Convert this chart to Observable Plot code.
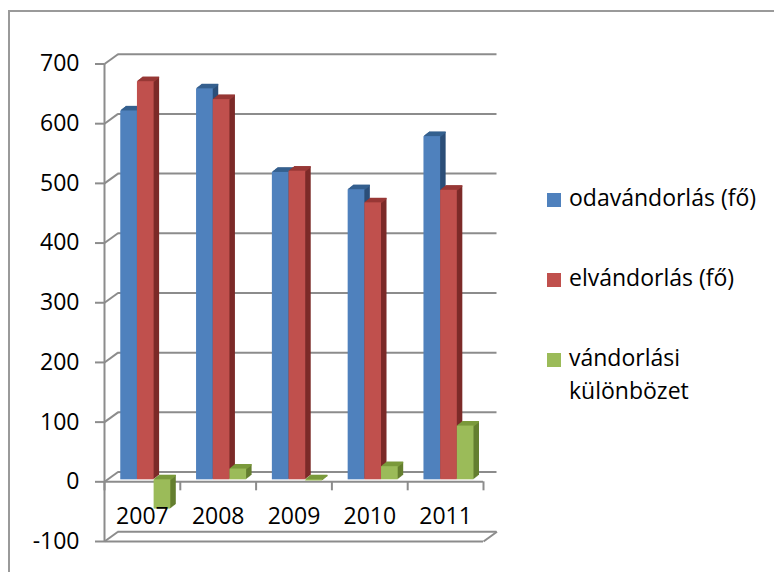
<!DOCTYPE html>
<html>
<head>
<meta charset="utf-8">
<script src="https://cdn.jsdelivr.net/npm/d3@7"></script>
<script src="https://cdn.jsdelivr.net/npm/@observablehq/plot@0.6"></script>
<style>
  body { margin: 0; background: #fff; }
  #wrap { position: relative; width: 774px; height: 572px; overflow: hidden; font-family: "Open Sans", sans-serif; }
  #border { position: absolute; left: 8px; top: 10px; width: 820px; height: 620px; border-left: 2px solid #9a9a9a; border-top: 2px solid #9a9a9a; }
  #chart { position: absolute; left: 0; top: 0; }
  .lg { position: absolute; left: 569px; font-size: 23px; line-height: 33px; color: #000; white-space: nowrap; }
  .sw { position: absolute; left: 547px; width: 14px; height: 14px; }
</style>
</head>
<body>
<div id="wrap">
  <div id="border"></div>
  <div id="chart"></div>
  <div id="legend"></div>
</div>
<script>
// ---- data ----
const years = ["2007", "2008", "2009", "2010", "2011"];
const odavandorlas = [618, 655, 515, 486, 575];
const elvandorlas = [667, 637, 517, 464, 485];
const kulonbozet = [-49, 18, -2, 22, 90];
const yTicks = [-100, 0, 100, 200, 300, 400, 500, 600, 700];
const seriesNames = ["odavándorlás (fő)", "elvándorlás (fő)", "vándorlási\nkülönbözet"];

// ---- styles ----
const frontColors = ["#4f81bd", "#c0504d", "#9bbb59"];
const topColors = ["#35608f", "#983836", "#7b9a3c"];
const sideColors = ["#2c4f79", "#7c2b29", "#657f30"];
const gridColor = "#8c8c8c";

const series = [odavandorlas, elvandorlas, kulonbozet];

// layout
const W = 774, H = 572;
const mL = 104, mR = 291, mT = 63.5, mB = 31;
const n = years.length;
const pxPerX = (W - mL - mR) / n;
const pxPerY = (H - mT - mB) / (yTicks[yTicks.length - 1] - yTicks[0]);
const wallDX = 13.5 / pxPerX;   // back wall depth in x units
const wallDY = 9.8 / pxPerY;    // back wall depth in y units
const barW = 0.22, barStart = 0.175;
const barDX = 3, barDY = -2;    // bar plane offset (px)
const depthX = 5.5, depthY = -4.3, N = 7;

function barMarks(s) {
  const data = years.map((yr, i) => ({
    x1: i + barStart + s * barW,
    x2: i + barStart + (s + 1) * barW,
    v: series[s][i]
  }));
  const marks = [];
  for (let k = N; k >= 1; k--) {
    marks.push(Plot.rect(data, {
      x1: "x1", x2: "x2", y1: 0, y2: "v", fill: sideColors[s],
      dx: barDX + k * depthX / N, dy: barDY + k * depthY / N
    }));
  }
  for (let k = N; k >= 1; k--) {
    marks.push(Plot.ruleY(data, {
      y: d => Math.max(d.v, 0), x1: "x1", x2: "x2", stroke: topColors[s], strokeWidth: 1.6,
      dx: barDX + k * depthX / N, dy: barDY + k * depthY / N
    }));
  }
  marks.push(Plot.rect(data, {
    x1: "x1", x2: "x2", y1: 0, y2: "v", fill: frontColors[s], dx: barDX, dy: barDY
  }));
  return marks;
}

const chart = Plot.plot({
  width: W, height: H,
  marginLeft: mL, marginRight: mR, marginTop: mT, marginBottom: mB,
  style: { fontFamily: "Open Sans", background: "transparent", overflow: "visible" },
  x: { type: "linear", domain: [0, n], axis: null },
  y: { domain: [yTicks[0], yTicks[yTicks.length - 1]], axis: null },
  marks: [
    // back wall gridlines
    Plot.ruleY(yTicks, { y: d => d + wallDY, x1: wallDX, x2: n + wallDX, stroke: gridColor, strokeWidth: 2 }),
    // left wall slants
    Plot.link(yTicks, { x1: 0, y1: d => d, x2: wallDX, y2: d => d + wallDY, stroke: gridColor, strokeWidth: 2 }),
    // floor front edge and right slant
    Plot.ruleY([yTicks[0]], { x1: 0, x2: n, stroke: gridColor, strokeWidth: 2 }),
    Plot.link([yTicks[0]], { x1: n, y1: d => d, x2: n + wallDX, y2: d => d + wallDY, stroke: gridColor, strokeWidth: 2 }),
    // front vertical axis
    Plot.ruleX([0], { y1: yTicks[0], y2: yTicks[yTicks.length - 1], stroke: gridColor, strokeWidth: 2 }),
    Plot.axisY(yTicks, {
      anchor: "left", tickSize: 9, tickPadding: 16, fontSize: 23, stroke: gridColor, strokeWidth: 2,
      fill: "#000", tickFormat: d => String(d), label: null
    }),
    // category axis at 0
    Plot.ruleY([0], { x1: 0, x2: n, stroke: gridColor, strokeWidth: 2 }),
    Plot.ruleX(d3.range(n + 1), { y1: 0, y2: -9 / pxPerY, stroke: gridColor, strokeWidth: 2 }),
    ...barMarks(0),
    ...barMarks(1),
    ...barMarks(2),
    Plot.text(years, { x: (d, i) => i + 0.5, y: 0, dy: 35, text: d => d, fontSize: 23, fill: "#000" })
  ]
});
document.getElementById("chart").appendChild(chart);

// legend
const legend = document.getElementById("legend");
const baselines = [206, 286.7, 366.7];
seriesNames.forEach((name, s) => {
  const sw = document.createElement("div");
  sw.className = "sw";
  sw.style.top = (baselines[s] - 13.5) + "px";
  sw.style.background = frontColors[s];
  legend.appendChild(sw);
  const t = document.createElement("div");
  t.className = "lg";
  t.style.top = (baselines[s] - 25.4) + "px";
  t.innerHTML = name.split("\n").join("<br>");
  legend.appendChild(t);
});
</script>
</body>
</html>
